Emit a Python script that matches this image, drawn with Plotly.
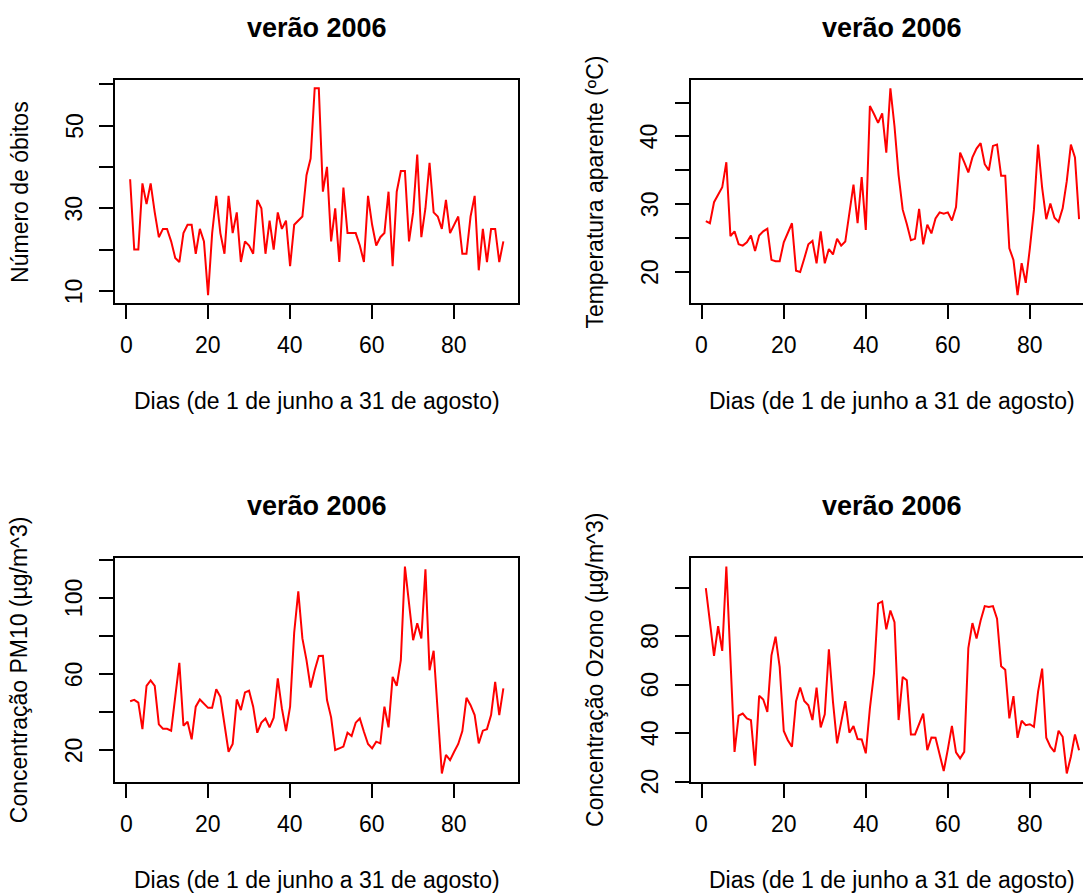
import plotly.graph_objects as go

# ---------------- data ----------------
dias = list(range(1, 93))

obitos = [37, 20, 20, 36, 31, 36, 29, 23, 25, 25,
          22, 18, 17, 24, 26, 26, 19, 25, 22, 9,
          24, 33, 24, 19, 33, 24, 29, 17, 22, 21,
          19, 32, 30, 19, 27, 20, 29, 25, 27, 16,
          26, 27, 28, 38, 42, 59, 59, 34, 40, 22,
          30, 17, 35, 24, 24, 24, 21, 17, 33, 26,
          21, 23, 24, 34, 16, 34, 39, 39, 22, 29,
          43, 23, 30, 41, 29, 28, 25, 32, 24, 26,
          28, 19, 19, 28, 33, 15, 25, 17, 25, 25,
          17, 22]

temperatura = [27.5, 27.2, 30.3, 31.5, 32.5, 36.2, 25.3, 26.0, 24.1, 23.9,
               24.4, 25.4, 23.1, 25.4, 26.0, 26.4, 21.8, 21.6, 21.6, 24.4,
               25.7, 27.2, 20.2, 20.0, 22.0, 24.1, 24.6, 21.3, 26.0, 21.3,
               23.4, 22.6, 24.9, 23.9, 24.5, 28.7, 32.9, 27.2, 34.0, 26.2,
               44.5, 43.3, 42.0, 43.4, 37.6, 47.1, 41.5, 34.3, 29.2, 27.1,
               24.7, 24.9, 29.3, 24.1, 27.0, 25.7, 27.9, 28.8, 28.6, 28.8,
               27.6, 29.6, 37.6, 36.2, 34.7, 36.9, 38.2, 39.0, 35.9, 35.0,
               38.6, 38.8, 34.2, 34.2, 23.5, 21.8, 16.6, 21.3, 18.4, 23.5,
               29.2, 38.8, 32.4, 27.8, 30.1, 28.0, 27.4, 29.4, 33.4, 38.8,
               36.9, 27.8]

pm10 = [45.7, 46.4, 44.9, 31.0, 53.8, 56.6, 53.8, 33.5, 31.2, 31.2,
        30.2, 47.0, 65.9, 32.8, 34.9, 25.6, 42.8, 46.6, 44.5, 42.2,
        42.2, 52.0, 48.0, 34.0, 19.1, 23.2, 46.6, 41.0, 50.3, 51.2,
        42.8, 29.1, 34.4, 36.6, 31.9, 37.0, 57.7, 41.9, 30.0, 42.8,
        81.8, 103.5, 78.7, 67.3, 52.9, 62.0, 69.5, 69.6, 46.3, 37.2,
        20.0, 20.9, 21.8, 29.1, 27.4, 34.4, 36.6, 29.6, 23.2, 20.9,
        24.4, 23.5, 42.8, 31.9, 58.5, 53.8, 67.3, 116.5, 96.2, 77.8,
        86.7, 78.7, 115.1, 62.0, 72.2, 40.0, 7.7, 17.4, 14.7, 19.1,
        23.2, 30.0, 47.5, 43.6, 38.4, 23.5, 30.2, 31.0, 38.4, 55.9,
        38.4, 52.4]

ozono = [99.8, 85.8, 71.9, 84.1, 73.9, 108.7, 70.5, 32.3, 47.2, 48.1,
         46.1, 45.4, 26.6, 55.4, 53.9, 48.8, 72.1, 79.8, 67.3, 40.9,
         37.1, 34.4, 53.2, 58.8, 53.3, 51.5, 45.4, 58.8, 42.4, 47.8,
         74.6, 52.9, 35.8, 45.1, 53.2, 40.2, 42.9, 37.6, 37.4, 31.7,
         50.2, 64.6, 93.4, 94.3, 82.8, 90.6, 85.8, 45.4, 63.2, 61.8,
         39.5, 39.5, 44.0, 48.1, 33.0, 38.2, 38.1, 31.2, 24.4, 33.3,
         43.0, 32.1, 29.6, 32.3, 75.1, 85.4, 79.0, 86.5, 92.4, 92.0,
         92.4, 87.2, 67.6, 66.2, 46.1, 55.3, 38.1, 45.1, 43.3, 43.7,
         42.6, 57.0, 66.6, 38.1, 34.4, 32.3, 41.0, 38.5, 23.4, 30.3,
         39.5, 33.0]

titulo = "verão 2006"
xlab = "Dias (de 1 de junho a 31 de agosto)"
ylabs = ["Número de óbitos", "Temperatura aparente (ºC)",
         "Concentração PM10 (µg/m^3)", "Concentração Ozono (µg/m^3)"]
x_ticks = [0, 20, 40, 60, 80]
y_ticks = [[10, 20, 30, 40, 50, 60],
           [20, 25, 30, 35, 40, 45],
           [20, 40, 60, 80, 100, 120],
           [20, 40, 60, 80, 100]]
# labels R printed (the others were dropped because of overlap)
y_ticklabels = [[10, 30, 50],
                [20, 30, 40],
                [20, 60, 100],
                [20, 40, 60, 80]]
series = [obitos, temperatura, pm10, ozono]

# ---------------- layout (pixels) ----------------
W, H = 1083, 894
FONT = "Liberation Sans, Arial, Helvetica, sans-serif"
FS_TICK, FS_LAB, FS_MAIN = 23, 23, 27

def r_range(v):
    lo, hi = min(v), max(v)
    d = (hi - lo) * 0.04
    return [lo - d, hi + d]

xr = r_range(dias)
box_left = [115.2, 690.9, 115.2, 690.9]
box_w = 403.1
box_top = [80.0, 80.0, 558.3, 558.3]
box_h = 223.4
ppu = box_w / (xr[1] - xr[0])

fig = go.Figure()
for i in range(4):
    n = i + 1
    sfx = "" if n == 1 else str(n)
    xa, ya = "x" + sfx, "y" + sfx
    fig.add_trace(go.Scatter(x=dias, y=series[i], mode="lines",
                             line=dict(color="#ff0000", width=2),
                             xaxis=xa, yaxis=ya, showlegend=False,
                             hoverinfo="skip"))
    right_px = min(box_left[i] + box_w, W)
    x_range = [xr[0], xr[0] + (right_px - box_left[i]) / ppu]
    clipped = box_left[i] + box_w > W
    xdom = [box_left[i] / W, right_px / W]
    ydom = [1 - (box_top[i] + box_h) / H, 1 - box_top[i] / H]
    axcommon = dict(showgrid=False, zeroline=False, showline=True,
                    linecolor="black", linewidth=2, ticks="outside",
                    ticklen=14, tickwidth=2, tickcolor="black",
                    showticklabels=False)
    fig.layout["xaxis" + sfx] = dict(domain=xdom, range=x_range, anchor=ya,
                                     tickvals=x_ticks, mirror=True, **axcommon)
    fig.layout["yaxis" + sfx] = dict(domain=ydom, range=r_range(series[i]),
                                     anchor=xa, tickvals=y_ticks[i],
                                     mirror=(not clipped), **axcommon)

    bottom = box_top[i] + box_h
    cx = box_left[i] + box_w / 2
    # x tick labels (placed on the x axis scale)
    for t in x_ticks:
        fig.add_annotation(text=str(t), xref=xa, yref="paper", x=t,
                           y=1 - (bottom + 42) / H, xanchor="center",
                           yanchor="middle", showarrow=False,
                           font=dict(family=FONT, size=FS_TICK, color="black"))
    # y tick labels (placed on the y axis scale), rotated like R's las=0
    for t in y_ticklabels[i]:
        fig.add_annotation(text=str(t), xref="paper", yref=ya,
                           x=(box_left[i] - 41) / W, y=t, xanchor="center",
                           yanchor="middle", textangle=-90, showarrow=False,
                           font=dict(family=FONT, size=FS_TICK, color="black"))
    # title
    fig.add_annotation(text=f"<b>{titulo}</b>", xref="paper", yref="paper",
                       x=cx / W, y=1 - (box_top[i] - 52) / H,
                       xanchor="center", yanchor="middle", showarrow=False,
                       font=dict(family=FONT, size=FS_MAIN, color="black"))
    # x label
    fig.add_annotation(text=xlab, xref="paper", yref="paper",
                       x=cx / W, y=1 - (bottom + 98) / H,
                       xanchor="center", yanchor="middle", showarrow=False,
                       font=dict(family=FONT, size=FS_LAB, color="black"))
    # y label
    fig.add_annotation(text=ylabs[i], xref="paper", yref="paper",
                       x=(box_left[i] - 96) / W,
                       y=1 - (box_top[i] + box_h / 2) / H,
                       xanchor="center", yanchor="middle", showarrow=False,
                       textangle=-90,
                       font=dict(family=FONT, size=FS_LAB, color="black"))

fig.update_layout(width=W, height=H, margin=dict(l=0, r=0, t=0, b=0),
                  paper_bgcolor="white", plot_bgcolor="white",
                  showlegend=False)
fig.write_html("out.html")
